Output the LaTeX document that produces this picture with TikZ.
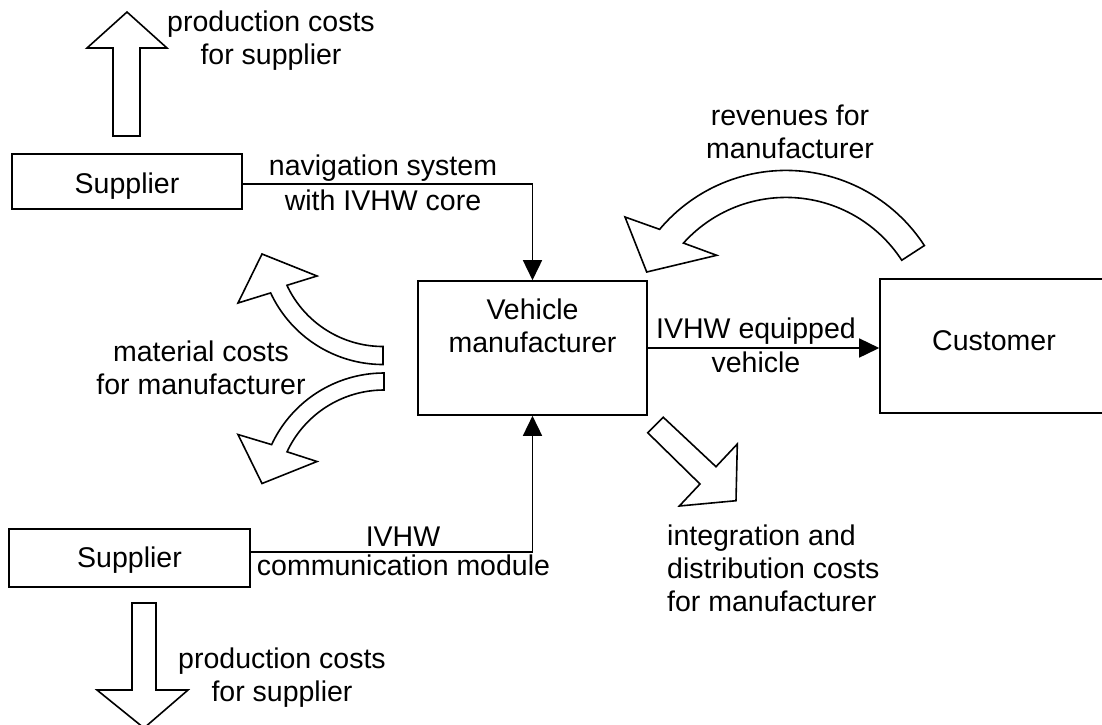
\documentclass[tikz,border=0pt]{standalone}
\usepackage{fontspec}
\setmainfont{Liberation Sans}
\usetikzlibrary{arrows.meta,calc}
\newcommand\vs[2]{\rule[-#2pt]{0pt}{\dimexpr#1pt+#2pt\relax}}
\begin{document}
\begin{tikzpicture}[x=1pt,y=-1pt,
  every node/.style={font=\fontsize{28.5}{31}\selectfont, inner sep=0pt},
  box/.style={draw, line width=1.6pt, align=center},
  lbl/.style={align=center},
  conn/.style={line width=1.6pt, -{Triangle[length=20pt,width=19pt]}},
  blk/.style={draw, line width=1.6pt, fill=white, line join=miter}]
\useasboundingbox (0,0) rectangle (1102,724);

% boxes
\node[box, minimum width=230pt, minimum height=55pt] (sup1) at (127,181.5) {\vs{29.6}{6}Supplier};
\node[box, minimum width=241pt, minimum height=58pt] (sup2) at (129.5,558) {\vs{24}{6}Supplier};
\node[box, minimum width=229pt, minimum height=134pt, font=\fontsize{28.5}{33}\selectfont] (vm) at (532.5,348) {\vs{26}{6}Vehicle\\\vs{26}{51}manufacturer};
\node[box, minimum width=228pt, minimum height=134pt] (cust) at (994,346) {\vs{26}{18}Customer};

% connectors
\draw[conn] ([yshift=-2.5pt]sup1.east) -| (vm.north);
\draw[conn] ([yshift=6pt]sup2.east) -| (vm.south);
\draw[conn] (vm.east) -- (vm.east -| cust.west);

% connector labels
\node (nav1) at (383,165) {\vs{26}{6}navigation system};
\node (nav2) at (383,200) {\vs{26}{6}with IVHW core};
\node (eq1) at (756,328) {\vs{26}{6}IVHW equipped};
\node (eq2) at (756,362) {\vs{26}{6}vehicle};
\node (cm1) at (403,536) {\vs{26}{6}IVHW};
\node (cm2) at (403.5,565) {\vs{26}{6}communication module};

% block arrows
\draw[blk] (113,136) -- (113,48) -- (87,48) -- (127,12) -- (167,48) -- (140,48) -- (140,136) -- cycle;
\draw[blk] (132,603) -- (132,690) -- (97,690) -- (144,728) -- (188,690) -- (156,690) -- (156,603) -- cycle;
\draw[blk] (663.3,417.3) -- (716,466.7) -- (737.3,444) -- (736,500.7) -- (679.3,506) -- (700,484) -- (647.7,432.7) -- cycle;
\draw[blk] plot[domain=90:155,samples=40] ({383+106*cos(\x)},{240.5+106*sin(\x)})
  -- (317,276) -- (262,254) -- (238,303)
  -- plot[domain=155:90,samples=40] ({383+124*cos(\x)},{240.5+124*sin(\x)}) -- cycle;
\draw[blk] plot[domain=270:205,samples=40] ({384+124*cos(\x)},{497+124*sin(\x)})
  -- (238,434.5) -- (262,483.5) -- (317,461.5)
  -- plot[domain=205:270,samples=40] ({384+107*cos(\x)},{497+107*sin(\x)}) -- cycle;
\draw[blk] plot[domain=-33:-140,samples=60] ({786+165*cos(\x)},{335.4+165*sin(\x)})
  -- (625,217) -- (646.7,272) -- (716.7,255.3)
  -- plot[domain=-138:-33,samples=60] ({786+138*cos(\x)},{335.4+138*sin(\x)}) -- cycle;

% cost / revenue labels
\node[lbl] (prodtop) at (271,37.5) {\vs{26}{6}production costs\\\vs{26}{6}for supplier};
\node[lbl] (prodbot) at (282,674.5) {\vs{26}{6}production costs\\\vs{26}{6}for supplier};
\node[lbl] (mat) at (201,367.5) {\vs{26}{6}material costs\\\vs{26}{6}for manufacturer};
\node[lbl] (rev) at (790,132) {\vs{26}{6}revenues for\\\vs{26}{6}manufacturer};
\node[lbl, align=left, anchor=west] (integ) at (667,568) {\vs{26}{6}integration and\\\vs{26}{6}distribution costs\\\vs{26}{6}for manufacturer};
\end{tikzpicture}
\end{document}
